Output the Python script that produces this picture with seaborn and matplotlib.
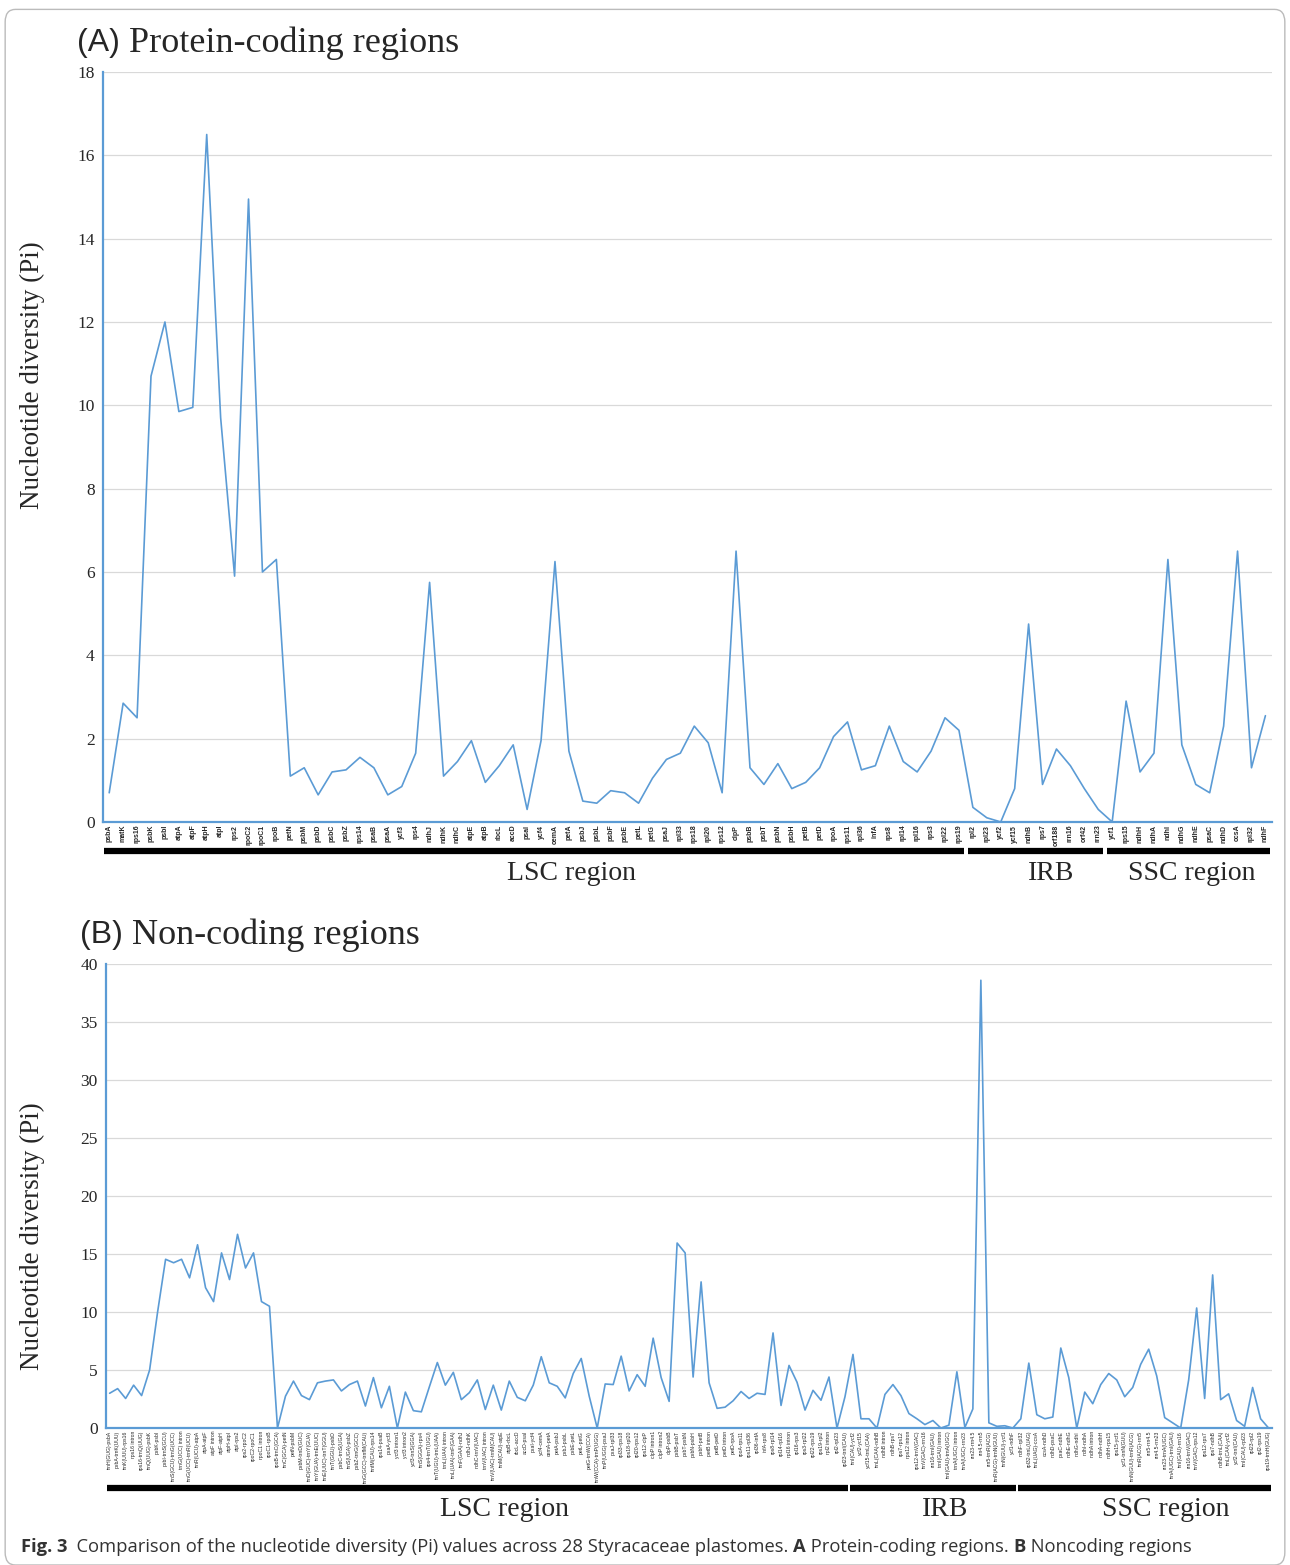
import seaborn as sns
import matplotlib.pyplot as plt
from matplotlib.patches import FancyBboxPatch

# ---------------- (A) protein-coding regions ----------------
lsc_genes = ["psbA", "matK", "rps16", "psbK", "psbI", "atpA", "atpF", "atpH", "atpI", "rps2",
             "rpoC2", "rpoC1", "rpoB", "petN", "psbM", "psbD", "psbC", "psbZ", "rps14", "psaB",
             "psaA", "ycf3", "rps4", "ndhJ", "ndhK", "ndhC", "atpE", "atpB", "rbcL", "accD",
             "psaI", "ycf4", "cemA", "petA", "psbJ", "psbL", "psbF", "psbE", "petL", "petG",
             "psaJ", "rpl33", "rps18", "rpl20", "rps12", "clpP", "psbB", "psbT", "psbN", "psbH",
             "petB", "petD", "rpoA", "rps11", "rpl36", "infA", "rps8", "rpl14", "rpl16", "rps3",
             "rpl22", "rps19"]
irb_genes = ["rpl2", "rpl23", "ycf2", "ycf15", "ndhB", "rps7", "orf188", "rrn16", "orf42", "rrn23"]
ssc_genes = ["ycf1", "rps15", "ndhH", "ndhA", "ndhI", "ndhG", "ndhE", "psaC", "ndhD", "ccsA",
             "rpl32", "ndhF"]

lsc_pi = [0.7, 2.85, 2.5, 10.7, 12.0, 9.85, 9.95, 16.5, 9.7, 5.9,
          14.95, 6.0, 6.3, 1.1, 1.3, 0.65, 1.2, 1.25, 1.55, 1.3,
          0.65, 0.85, 1.65, 5.75, 1.1, 1.45, 1.95, 0.95, 1.35, 1.85,
          0.3, 1.95, 6.25, 1.7, 0.5, 0.45, 0.75, 0.7, 0.45, 1.05,
          1.5, 1.65, 2.3, 1.9, 0.7, 6.5, 1.3, 0.9, 1.4, 0.8,
          0.95, 1.3, 2.05, 2.4, 1.25, 1.35, 2.3, 1.45, 1.2, 1.7,
          2.5, 2.2]
irb_pi = [0.35, 0.1, 0.0, 0.8, 4.75, 0.9, 1.75, 1.35, 0.8, 0.3]
ssc_pi = [0.0, 2.9, 1.2, 1.65, 6.3, 1.85, 0.9, 0.7, 2.3, 6.5, 1.3, 2.55]

# ---------------- (B) non-coding regions ----------------
lsc_spacers = ["trnH(GUG)-psbA", "psbA-trnK(UUU)", "trnK(UUU)-rps16", "rps16 intron", "rps16-trnQ(UUG)",
               "trnQ(UUG)-psbK", "psbK-psbI", "psbI-trnS(GCU)", "trnS(GCU)-trnG(UCC)", "trnG(UCC) intron",
               "trnG(UCC)-trnR(UCU)", "trnR(UCU)-atpA", "atpA-atpF", "atpF intron", "atpF-atpH",
               "atpH-atpI", "atpI-rps2", "rps2-rpoC2", "rpoC2-rpoC1", "rpoC1 intron",
               "rpoC1-rpoB", "rpoB-trnC(GCA)", "trnC(GCA)-petN", "petN-psbM", "psbM-trnD(GUC)",
               "trnD(GUC)-trnY(GUA)", "trnY(GUA)-trnE(UUC)", "trnE(UUC)-trnT(GGU)", "trnT(GGU)-psbD", "psbC-trnS(UGA)",
               "trnS(UGA)-psbZ", "psbZ-trnG(GCC)", "trnG(GCC)-trnfM(CAU)", "trnfM(CAU)-rps14", "rps14-psaB",
               "psaA-ycf3", "ycf3 intron1", "ycf3 intron2", "ycf3-trnS(GGA)", "trnS(GGA)-rps4",
               "rps4-trnT(UGU)", "trnT(UGU)-trnL(UAA)", "trnL(UAA) intron", "trnL(UAA)-trnF(GAA)", "trnF(GAA)-ndhJ",
               "ndhJ-ndhK", "ndhC-trnV(UAC)", "trnV(UAC) intron", "trnV(UAC)-trnM(CAU)", "trnM(CAU)-atpE",
               "atpB-rbcL", "rbcL-accD", "accD-psaI", "psaI-ycf4", "ycf4-cemA",
               "cemA-petA", "petA-psbJ", "psbJ-psbL", "psbE-petL", "petL-petG",
               "petG-trnW(CCA)", "trnW(CCA)-trnP(UGG)", "trnP(UGG)-psaJ", "psaJ-rpl33", "rpl33-rps18",
               "rps18-rpl20", "rpl20-rps12", "rps12-clpP", "clpP intron1", "clpP intron2",
               "clpP-psbB", "psbB-psbT", "psbT-psbN", "psbN-psbH", "psbH-petB",
               "petB intron", "petB-petD", "petD intron", "petD-rpoA", "rpoA-rps11",
               "rps11-rpl36", "rpl36-infA", "infA-rps8", "rps8-rpl14", "rpl14-rpl16",
               "rpl16 intron", "rpl16-rps3", "rps3-rpl22", "rpl22-rps19", "rps19-rpl2",
               "rpl2 intron", "rpl2-rpl23", "rpl23-trnI(CAU)"]
irb_spacers = ["trnI(CAU)-ycf2", "ycf2-ycf15", "ycf15-trnL(CAA)", "trnL(CAA)-ndhB", "ndhB intron",
               "ndhB-rps7", "rps7-rps12", "rps12 intron", "rps12-trnV(GAC)", "trnV(GAC)-rrn16",
               "rrn16-trnI(GAU)", "trnI(GAU) intron", "trnI(GAU)-trnA(UGC)", "trnA(UGC) intron", "trnA(UGC)-rrn23",
               "rrn23-rrn4.5", "rrn4.5-rrn5", "rrn5-trnR(ACG)", "trnR(ACG)-trnN(GUU)", "trnN(GUU)-ycf1",
               "ycf1-ndhF"]
ssc_spacers = ["ndhF-rpl32", "rpl32-trnL(UAG)", "trnL(UAG)-ccsA", "ccsA-ndhD", "ndhD-psaC",
               "psaC-ndhE", "ndhE-ndhG", "ndhG-ndhI", "ndhI-ndhA", "ndhA intron",
               "ndhA-ndhH", "ndhH-rps15", "rps15-ycf1", "ycf1-trnN(GUU)", "trnN(GUU)-trnR(ACG)",
               "trnR(ACG)-rrn5", "rrn5-rrn4.5", "rrn4.5-rrn23", "rrn23-trnA(UGC)", "trnA(UGC)-trnI(GAU)",
               "trnI(GAU)-rrn16", "rrn16-trnV(GAC)", "trnV(GAC)-rps12", "rps12-rps7", "rps7-ndhB",
               "ndhB-trnL(CAA)", "trnL(CAA)-ycf2", "ycf2-trnI(CAU)", "trnI(CAU)-rpl23", "rpl23-rpl2",
               "rpl2-rps19", "rps19-trnH(GUG)"]

lsc_nc_pi = [3.0, 3.4, 2.55, 3.7, 2.8, 5.0, 10.0, 14.55, 14.25, 14.55,
             12.95, 15.8, 12.1, 10.9, 15.1, 12.8, 16.7, 13.8, 15.1, 10.9,
             10.5, 0.0, 2.75, 4.05, 2.8, 2.45, 3.9, 4.05, 4.15, 3.2,
             3.75, 4.05, 1.9, 4.35, 1.75, 3.6, 0.0, 3.1, 1.5, 1.4,
             3.55, 5.65, 3.7, 4.8, 2.45, 3.05, 4.15, 1.6, 3.7, 1.55,
             4.05, 2.65, 2.35, 3.7, 6.15, 3.9, 3.6, 2.6, 4.7, 6.0,
             2.75, 0.0, 3.8, 3.75, 6.2, 3.2, 4.6, 3.6, 7.75, 4.35,
             2.3, 15.95, 15.1, 4.4, 12.6, 3.9, 1.7, 1.8, 2.35, 3.15,
             2.55, 3.0, 2.9, 8.2, 1.95, 5.4, 3.95, 1.55, 3.25, 2.4,
             4.4, 0.0, 2.7]
irb_nc_pi = [6.35, 0.8, 0.8, 0.0, 2.9, 3.75, 2.8, 1.25, 0.8, 0.3,
             0.65, 0.0, 0.25, 4.85, 0.05, 1.65, 38.6, 0.45, 0.15, 0.2,
             0.0]
ssc_nc_pi = [0.8, 5.6, 1.15, 0.8, 0.95, 6.9, 4.35, 0.0, 3.1, 2.1,
             3.75, 4.7, 4.15, 2.7, 3.5, 5.5, 6.8, 4.5, 0.9, 0.45,
             0.0, 4.15, 10.35, 2.55, 13.2, 2.45, 2.95, 0.65, 0.15, 3.5,
             0.8, 0.0]

region_names = ["LSC region", "IRB", "SSC region"]

assert len(lsc_genes) == len(lsc_pi) and len(irb_genes) == len(irb_pi) and len(ssc_genes) == len(ssc_pi)
assert len(lsc_spacers) == len(lsc_nc_pi) and len(irb_spacers) == len(irb_nc_pi)
assert len(ssc_spacers) == len(ssc_nc_pi)

blue = "#5B9BD5"
serif = "Liberation Serif"

sns.set_style("white")
plt.rcParams["font.family"] = ["Liberation Sans", "DejaVu Sans"]

fig = plt.figure(figsize=(12.9, 15.65), dpi=100)


def draw_panel(rect, labels_by_region, values_by_region, ymax, ystep, tick_size, tick_bold,
               bar_y, text_y, label_shift, ylabel_pos, tag, title):
    ax = fig.add_axes(rect)
    labels = sum(labels_by_region, [])
    values = sum(values_by_region, [])
    x = list(range(len(values)))
    sns.lineplot(x=x, y=values, ax=ax, color=blue, linewidth=1.2)

    ax.set_xlim(-0.45, len(values) - 0.55)
    ax.set_ylim(0, ymax)
    ax.set_yticks(range(0, ymax + 1, ystep))
    ax.set_yticklabels([str(v) for v in range(0, ymax + 1, ystep)], family=serif, fontsize=12.5)
    ax.set_xticks(x)
    ax.set_xticklabels(labels, rotation=90, fontsize=tick_size,
                       fontweight="bold" if tick_bold else "normal", va="top")
    ax.tick_params(axis="both", length=0)
    ax.tick_params(axis="x", pad=2)
    ax.tick_params(axis="y", pad=6)
    ax.grid(axis="y", color="#D9D9D9", linewidth=0.9)
    ax.set_axisbelow(True)
    for side in ["top", "right"]:
        ax.spines[side].set_visible(False)
    for side in ["left", "bottom"]:
        ax.spines[side].set_color(blue)
        ax.spines[side].set_linewidth(1.6)
    ax.set_xlabel("")
    ax.set_ylabel("Nucleotide diversity (Pi)", family=serif, fontsize=19.5)
    ax.yaxis.set_label_coords(*ylabel_pos)

    # region bars under the axis
    trans = ax.get_xaxis_transform()
    start = 0
    for name, vals, shift in zip(region_names, values_by_region, label_shift):
        x0, x1 = start - 0.35, start + len(vals) - 1 + 0.35
        ax.plot([x0, x1], [bar_y, bar_y], color="black", linewidth=4.5,
                solid_capstyle="butt", transform=trans, clip_on=False)
        ax.text((x0 + x1) / 2 + shift, text_y, name, transform=trans, ha="center",
                va="center", family=serif, fontsize=20)
        start += len(vals)

    # panel title
    t = ax.annotate(tag, xy=(0, 1), xycoords="axes fraction", xytext=(-19, 21),
                    textcoords="offset points", fontsize=23, va="center", ha="left")
    ax.annotate(title, xy=(1, 0.5), xycoords=t, xytext=(7, 0), textcoords="offset points",
                va="center", ha="left", family=serif, fontsize=26)
    return ax


ax_a = draw_panel([0.0798, 0.4748, 0.906, 0.4792],
                  [lsc_genes, irb_genes, ssc_genes], [lsc_pi, irb_pi, ssc_pi],
                  18, 2, 5.0, True, -0.039, -0.069, [2.7, 1.1, 0.2], (-0.05, 0.596),
                  "(A)", "Protein-coding regions")
ax_b = draw_panel([0.0822, 0.0875, 0.904, 0.2965],
                  [lsc_spacers, irb_spacers, ssc_spacers], [lsc_nc_pi, irb_nc_pi, ssc_nc_pi],
                  40, 5, 3.7, False, -0.129, -0.175, [3.4, 1.5, 2.6], (-0.0523, 0.414),
                  "(B)", "Non-coding regions")

# frame around the figure
fig.patches.append(FancyBboxPatch((0.004, 0.0), 0.992, 0.994, boxstyle="round,pad=0,rounding_size=0.008",
                                  transform=fig.transFigure, facecolor="none",
                                  edgecolor="#BBBBBB", linewidth=1.0))

# caption
cap_font = ["Open Sans", "DejaVu Sans"]
pieces = [("Fig. 3", "bold"),
          ("  Comparison of the nucleotide diversity (Pi) values across 28 Styracaceae plastomes. ", "normal"),
          ("A", "bold"),
          (" Protein-coding regions. ", "normal"),
          ("B", "bold"),
          (" Noncoding regions", "normal")]
renderer = fig.canvas.get_renderer()
xpos = 0.016
for txt, weight in pieces:
    tt = fig.text(xpos, 0.0115, txt, fontsize=13.2, fontweight=weight, color="#333333",
                  family=cap_font, va="center", ha="left")
    bb = tt.get_window_extent(renderer=renderer)
    xpos = bb.x1 / fig.bbox.width

fig.savefig("out.png", dpi=100)
